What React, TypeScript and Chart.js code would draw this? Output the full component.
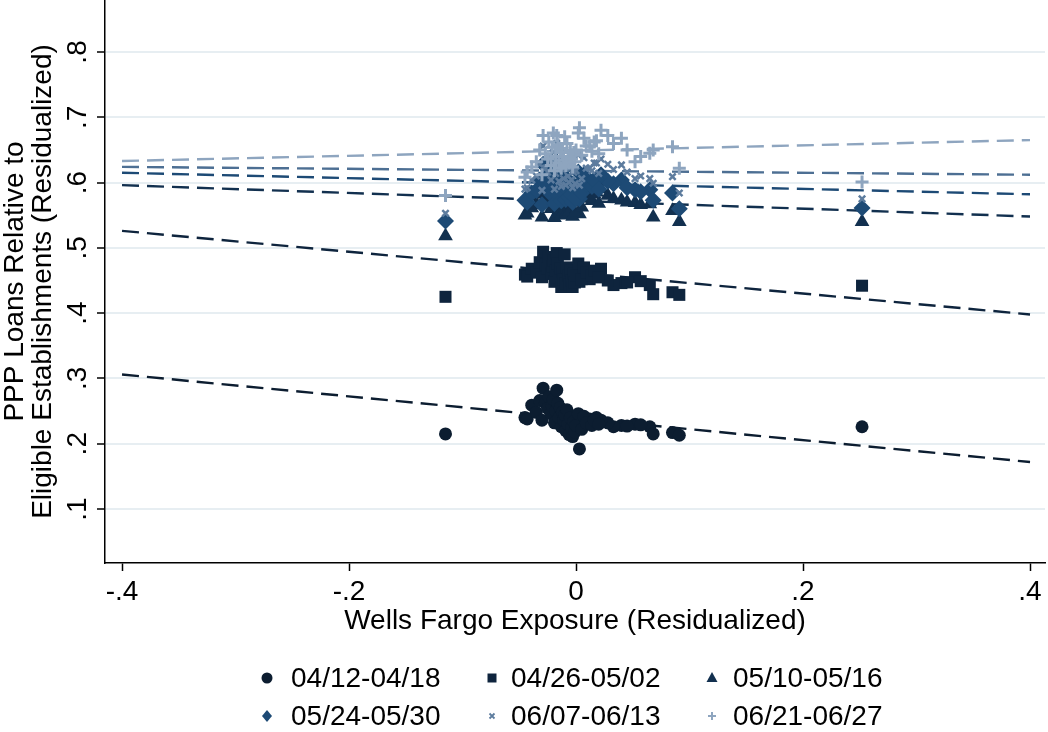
import React, { useEffect, useRef } from 'react';
import { Chart, registerables } from 'chart.js';

Chart.register(...registerables);

const seriesLabels = ['04/12-04/18', '04/26-05/02', '05/10-05/16', '05/24-05/30', '06/07-06/13', '06/21-06/27'];

// Wells Fargo exposure (residualized), shared by every week
const exposure = [
  -0.115, 0.252, 0.003, 0.052, 0.065, 0.068, 0.085, 0.091, 0.040, 0.033, 0.028, 0.022, 0.018, 0.012, 0.045, 0.057,
  -0.045, -0.043, -0.039, -0.035, -0.032, -0.030, -0.029, -0.027, -0.025, -0.024,
  -0.022, -0.021, -0.020, -0.019, -0.018, -0.017, -0.016, -0.015, -0.014, -0.013,
  -0.012, -0.011, -0.010, -0.009, -0.008, -0.007, -0.006, -0.005, -0.004, -0.003,
  -0.002, -0.001, 0.000, 0.002, 0.005, 0.007, 0.009, 0.014, 0.016, 0.020,
];

const share0412 = [
  0.215, 0.226, 0.192, 0.230, 0.226, 0.215, 0.217, 0.213, 0.228, 0.226, 0.232, 0.236, 0.240, 0.238, 0.227, 0.229,
  0.240, 0.238, 0.259, 0.248, 0.266, 0.236, 0.285, 0.262, 0.254, 0.272,
  0.246, 0.258, 0.268, 0.232, 0.250, 0.282, 0.262, 0.240, 0.255, 0.226,
  0.248, 0.236, 0.244, 0.220, 0.252, 0.230, 0.214, 0.240, 0.224, 0.211,
  0.234, 0.218, 0.228, 0.246, 0.222, 0.242, 0.232, 0.228, 0.236, 0.230,
];
const share0426 = [
  0.425, 0.442, 0.448, 0.455, 0.443, 0.429, 0.432, 0.428, 0.446, 0.443, 0.450, 0.468, 0.455, 0.452, 0.447, 0.449,
  0.459, 0.456, 0.468, 0.462, 0.478, 0.455, 0.494, 0.474, 0.468, 0.486,
  0.460, 0.472, 0.480, 0.448, 0.465, 0.492, 0.476, 0.455, 0.469, 0.440,
  0.463, 0.452, 0.490, 0.446, 0.470, 0.458, 0.444, 0.466, 0.450, 0.440,
  0.460, 0.447, 0.458, 0.476, 0.452, 0.470, 0.462, 0.458, 0.465, 0.455,
];
const share0510 = [
  0.518, 0.540, 0.552, 0.569, 0.567, 0.547, 0.557, 0.540, 0.573, 0.575, 0.580, 0.590, 0.585, 0.578, 0.570, 0.566,
  0.550, 0.553, 0.561, 0.566, 0.582, 0.547, 0.604, 0.578, 0.572, 0.592,
  0.560, 0.585, 0.596, 0.546, 0.570, 0.610, 0.588, 0.558, 0.580, 0.550,
  0.574, 0.562, 0.600, 0.552, 0.584, 0.566, 0.556, 0.576, 0.560, 0.548,
  0.570, 0.554, 0.572, 0.594, 0.562, 0.590, 0.576, 0.572, 0.582, 0.568,
];
const share0524 = [
  0.541, 0.561, 0.575, 0.589, 0.589, 0.573, 0.584, 0.560, 0.604, 0.598, 0.602, 0.612, 0.605, 0.598, 0.592, 0.586,
  0.573, 0.570, 0.584, 0.588, 0.604, 0.566, 0.628, 0.600, 0.594, 0.616,
  0.582, 0.606, 0.620, 0.568, 0.592, 0.632, 0.610, 0.580, 0.604, 0.572,
  0.596, 0.584, 0.622, 0.574, 0.606, 0.588, 0.578, 0.598, 0.582, 0.570,
  0.592, 0.576, 0.594, 0.616, 0.584, 0.612, 0.598, 0.594, 0.604, 0.590,
];
const share0607 = [
  0.553, 0.575, 0.596, 0.606, 0.606, 0.599, 0.609, 0.584, 0.627, 0.620, 0.628, 0.636, 0.630, 0.622, 0.616, 0.610,
  0.590, 0.592, 0.604, 0.610, 0.628, 0.588, 0.656, 0.622, 0.616, 0.640,
  0.604, 0.630, 0.646, 0.590, 0.614, 0.660, 0.634, 0.602, 0.628, 0.594,
  0.620, 0.606, 0.650, 0.596, 0.630, 0.610, 0.600, 0.622, 0.604, 0.592,
  0.616, 0.598, 0.618, 0.642, 0.606, 0.638, 0.622, 0.618, 0.630, 0.614,
];
const share0621 = [
  0.580, 0.601, 0.684, 0.632, 0.645, 0.650, 0.655, 0.622, 0.668, 0.660, 0.672, 0.680, 0.664, 0.656, 0.650, 0.640,
  0.608, 0.616, 0.624, 0.632, 0.650, 0.612, 0.672, 0.644, 0.636, 0.662,
  0.626, 0.654, 0.676, 0.618, 0.640, 0.672, 0.658, 0.630, 0.652, 0.622,
  0.646, 0.634, 0.670, 0.626, 0.660, 0.640, 0.630, 0.650, 0.636, 0.624,
  0.646, 0.632, 0.650, 0.676, 0.642, 0.668, 0.656, 0.648, 0.662, 0.644,
];

// Linear fits: value at x = -0.4 and x = 0.4
const fitX = [-0.4, 0.4];
const fit0412 = [0.306, 0.172];
const fit0426 = [0.526, 0.398];
const fit0510 = [0.596, 0.548];
const fit0524 = [0.615, 0.582];
const fit0607 = [0.624, 0.612];
const fit0621 = [0.633, 0.665];

const xTickValues = [-0.4, -0.2, 0, 0.2, 0.4];
const xTickLabels = ['-.4', '-.2', '0', '.2', '.4'];
const yTickValues = [0.1, 0.2, 0.3, 0.4, 0.5, 0.6, 0.7, 0.8];
const yTickLabels = ['.1', '.2', '.3', '.4', '.5', '.6', '.7', '.8'];

const shares = [share0412, share0426, share0510, share0524, share0607, share0621];
const fits = [fit0412, fit0426, fit0510, fit0524, fit0607, fit0621];

const markerColors = ['#0c1d30', '#0e243d', '#12304f', '#1d4a75', '#5d7c9e', '#8ea5bf'];
const lineColors = ['#0c1d30', '#0e243d', '#12304f', '#1d4a75', '#4d6f93', '#8ea5bf'];
const pointStyles = ['circle', 'rect', 'triangle', 'rectRot', 'crossRot', 'cross'];
const pointRadii = [6.5, 8.5, 8.5, 8.5, 4.5, 6.5];
const pointBorders = [0, 0, 0, 0, 2.5, 3];

const FONT = '"Liberation Sans", Arial, Helvetica, sans-serif';

function drawLegendMarker(ctx: CanvasRenderingContext2D, i: number, x: number, y: number) {
  const c = markerColors[i];
  ctx.fillStyle = c;
  ctx.strokeStyle = c;
  ctx.beginPath();
  if (i === 0) {
    ctx.arc(x, y, 5.5, 0, Math.PI * 2);
    ctx.fill();
  } else if (i === 1) {
    ctx.rect(x - 4.5, y - 4.5, 9, 9);
    ctx.fill();
  } else if (i === 2) {
    ctx.moveTo(x, y - 6);
    ctx.lineTo(x + 5.5, y + 4);
    ctx.lineTo(x - 5.5, y + 4);
    ctx.closePath();
    ctx.fill();
  } else if (i === 3) {
    ctx.moveTo(x, y - 6);
    ctx.lineTo(x + 5, y);
    ctx.lineTo(x, y + 6);
    ctx.lineTo(x - 5, y);
    ctx.closePath();
    ctx.fill();
  } else if (i === 4) {
    ctx.lineWidth = 1.8;
    ctx.moveTo(x - 2.5, y - 2.5);
    ctx.lineTo(x + 2.5, y + 2.5);
    ctx.moveTo(x + 2.5, y - 2.5);
    ctx.lineTo(x - 2.5, y + 2.5);
    ctx.stroke();
  } else {
    ctx.lineWidth = 2;
    ctx.moveTo(x - 4, y);
    ctx.lineTo(x + 4, y);
    ctx.moveTo(x, y - 4);
    ctx.lineTo(x, y + 4);
    ctx.stroke();
  }
}

const gridLegend = {
  id: 'gridLegend',
  afterDraw(chart: any) {
    const ctx: CanvasRenderingContext2D = chart.ctx;
    const cols = [
      { sym: 267, text: 291 },
      { sym: 492, text: 511 },
      { sym: 712, text: 733 },
    ];
    const rows = [678, 716];
    ctx.save();
    seriesLabels.forEach((label, i) => {
      const col = cols[i % 3];
      const y = rows[Math.floor(i / 3)];
      drawLegendMarker(ctx, i, col.sym, y);
      ctx.fillStyle = '#000';
      ctx.font = `28px ${FONT}`;
      ctx.textBaseline = 'middle';
      ctx.textAlign = 'left';
      ctx.fillText(label, col.text, y + 1);
    });
    ctx.restore();
  },
};

export default function App() {
  const canvasRef = useRef<HTMLCanvasElement | null>(null);

  useEffect(() => {
    document.body.style.margin = '0';
    const canvas = canvasRef.current;
    if (!canvas) return;

    const scatterSets = shares.map((ys, i) => ({
      type: 'scatter' as const,
      label: seriesLabels[i],
      data: exposure.map((x, k) => ({ x, y: ys[k] })),
      pointStyle: pointStyles[i],
      pointRadius: pointRadii[i],
      pointBackgroundColor: markerColors[i],
      pointBorderColor: markerColors[i],
      pointBorderWidth: pointBorders[i],
      showLine: false,
      order: 20 - i,
    }));

    const fitSets = fits.map((ys, i) => ({
      type: 'line' as const,
      label: 'Fitted ' + seriesLabels[i],
      data: fitX.map((x, k) => ({ x, y: ys[k] })),
      borderColor: lineColors[i],
      borderWidth: 2.4,
      borderDash: [17, 8],
      pointRadius: 0,
      fill: false,
      order: 40 - i,
    }));

    const chart = new Chart(canvas, {
      type: 'scatter',
      data: { datasets: [...scatterSets, ...fitSets] as any },
      options: {
        animation: false,
        responsive: false,
        maintainAspectRatio: false,
        layout: { autoPadding: false, padding: { left: 0, top: 0, right: 3, bottom: 94 } },
        plugins: {
          legend: { display: false },
          tooltip: { enabled: false },
        },
        scales: {
          x: {
            type: 'linear',
            min: -0.415,
            max: 0.4132,
            afterBuildTicks: (scale: any) => {
              scale.ticks = xTickValues.map((v) => ({ value: v }));
            },
            afterFit: (scale: any) => {
              scale.height = 75;
              scale.paddingLeft = 0;
              scale.paddingRight = 0;
              scale.paddingTop = 0;
              scale.paddingBottom = 0;
            },
            ticks: {
              callback: (v: any) => xTickLabels[xTickValues.findIndex((t) => Math.abs(t - v) < 1e-9)] ?? '',
              color: '#000',
              font: { family: FONT, size: 28 },
              padding: 4,
              maxRotation: 0,
              autoSkip: false,
            },
            grid: {
              drawOnChartArea: false,
              drawTicks: true,
              tickLength: 8,
              tickColor: '#000',
              tickWidth: 1.5,
            },
            border: { display: true, color: '#000', width: 1.5 },
            title: {
              display: true,
              text: 'Wells Fargo Exposure (Residualized)',
              color: '#000',
              font: { family: FONT, size: 28 },
              padding: { top: 0, bottom: 0 },
            },
          },
          y: {
            type: 'linear',
            min: 0.0173,
            max: 0.8796,
            afterBuildTicks: (scale: any) => {
              scale.ticks = yTickValues.map((v) => ({ value: v }));
            },
            afterFit: (scale: any) => {
              scale.width = 105;
              scale.paddingLeft = 0;
              scale.paddingRight = 0;
              scale.paddingTop = 0;
              scale.paddingBottom = 0;
            },
            ticks: {
              callback: (v: any) => yTickLabels[yTickValues.findIndex((t) => Math.abs(t - v) < 1e-9)] ?? '',
              color: '#000',
              font: { family: FONT, size: 28 },
              minRotation: 90,
              maxRotation: 90,
              crossAlign: 'center',
              padding: 7,
              autoSkip: false,
            },
            grid: {
              color: '#e7eef2',
              lineWidth: 2,
              drawTicks: true,
              tickLength: 8,
              tickColor: '#000',
              tickWidth: 1.5,
            },
            border: { display: true, color: '#000', width: 1.5 },
            title: {
              display: true,
              text: ['PPP Loans Relative to', 'Eligible Establishments (Residualized)'],
              color: '#000',
              font: { family: FONT, size: 28, lineHeight: 1.0 },
              padding: { top: 1, bottom: 0 },
            },
          },
        },
      },
      plugins: [gridLegend],
    });

    return () => {
      chart.destroy();
    };
  }, []);

  return (
    <div style={{ width: 1048, height: 732, background: '#fff' }}>
      <canvas ref={canvasRef} width={1048} height={732} />
    </div>
  );
}
